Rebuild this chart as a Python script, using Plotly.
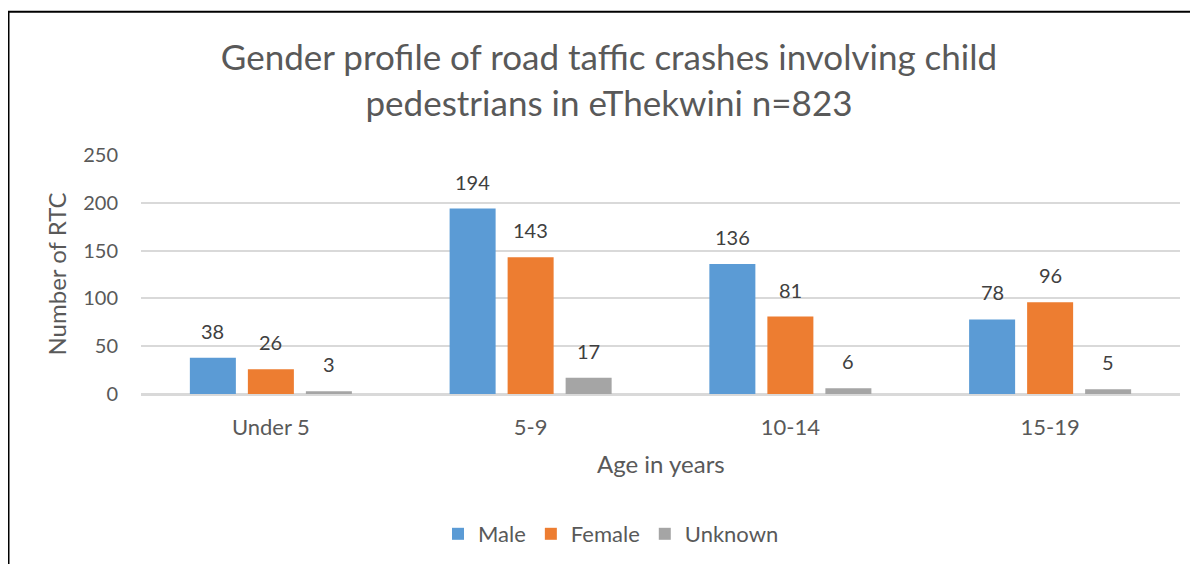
import plotly.graph_objects as go

categories = ["Under 5", "5-9", "10-14", "15-19"]
male = [38, 194, 136, 78]
female = [26, 143, 81, 96]
unknown = [3, 17, 6, 5]
series_names = ["Male", "Female", "Unknown"]
colors = ["#5B9BD5", "#ED7D31", "#A5A5A5"]
y_ticks = [0, 50, 100, 150, 200, 250]

FONT = "Lato"
# page has an 8px body margin; figure coordinates = reference pixels - 8
W, H = 1190, 556
L, R, T, B = 133, 18, 147, 170
GREY = "#595959"

fig = go.Figure()
series = [male, female, unknown]
offsets = [-58, 0, 58]
for name, vals, col, dx in zip(series_names, series, colors, offsets):
    fig.add_trace(go.Bar(
        x=categories, y=vals, name=name, marker_color=col,
        marker_line_width=0,
    ))
    for c, v in zip(categories, vals):
        fig.add_annotation(
            x=c, y=v, xref="x", yref="y", text=str(v), showarrow=False,
            xshift=dx, yshift=27, xanchor="center", yanchor="middle",
            font=dict(size=20, color="#404040", family=FONT),
        )

fig.update_layout(
    width=W, height=H,
    margin=dict(l=L, r=R, t=T, b=B, autoexpand=False),
    paper_bgcolor="white", plot_bgcolor="white",
    barmode="group", bargap=0.33, bargroupgap=0.207,
    title=dict(
        text="Gender profile of road taffic crashes involving child<br>pedestrians in eThekwini n=823",
        x=601 / W, xref="container", xanchor="center",
        y=1 - 62 / H, yref="container", yanchor="middle",
        font=dict(family=FONT, size=35, color=GREY),
    ),
    font=dict(family=FONT, color=GREY),
    legend=dict(
        orientation="h", x=603 / W, xref="container", xanchor="center",
        y=1 - 526 / H, yref="container", yanchor="middle",
        font=dict(size=22, color=GREY, family=FONT),
        itemwidth=30, traceorder="normal",
    ),
    showlegend=True,
)

fig.update_yaxes(
    range=[0, 250], tickvals=y_ticks, showgrid=True, gridcolor="#D9D9D9",
    gridwidth=1.5, zeroline=True, zerolinecolor="#D9D9D9", zerolinewidth=1.5,
    showline=False, ticks="", ticklabelstandoff=22,
    tickfont=dict(size=20, color=GREY, family=FONT),
)
fig.update_xaxes(
    showline=True, linecolor="#D9D9D9", linewidth=1.5, ticks="",
    ticklabelstandoff=13,
    tickfont=dict(size=22, color=GREY, family=FONT),
)

# axis titles
fig.add_annotation(x=0, y=0.5, xref="paper", yref="paper", xshift=-85,
                   text="Number of RTC", textangle=-90, showarrow=False,
                   xanchor="center", yanchor="middle",
                   font=dict(size=24, color=GREY, family=FONT))
fig.add_annotation(x=0.5, y=0, xref="paper", yref="paper", yshift=-69,
                   text="Age in years", showarrow=False,
                   xanchor="center", yanchor="middle",
                   font=dict(size=24, color=GREY, family=FONT))

# border frame (partially cropped in the reference)
pw = W - L - R
ph = H - T - B
def px_x(px):
    return (px - L) / pw
def px_y(py):
    return (H - B - py) / ph
fig.add_shape(type="rect", xref="paper", yref="paper",
              x0=px_x(0.5), x1=px_x(W + 20), y0=px_y(H + 20), y1=px_y(3.7),
              line=dict(color="black", width=2), fillcolor="rgba(0,0,0,0)", layer="below")

fig.write_html("out.html")
